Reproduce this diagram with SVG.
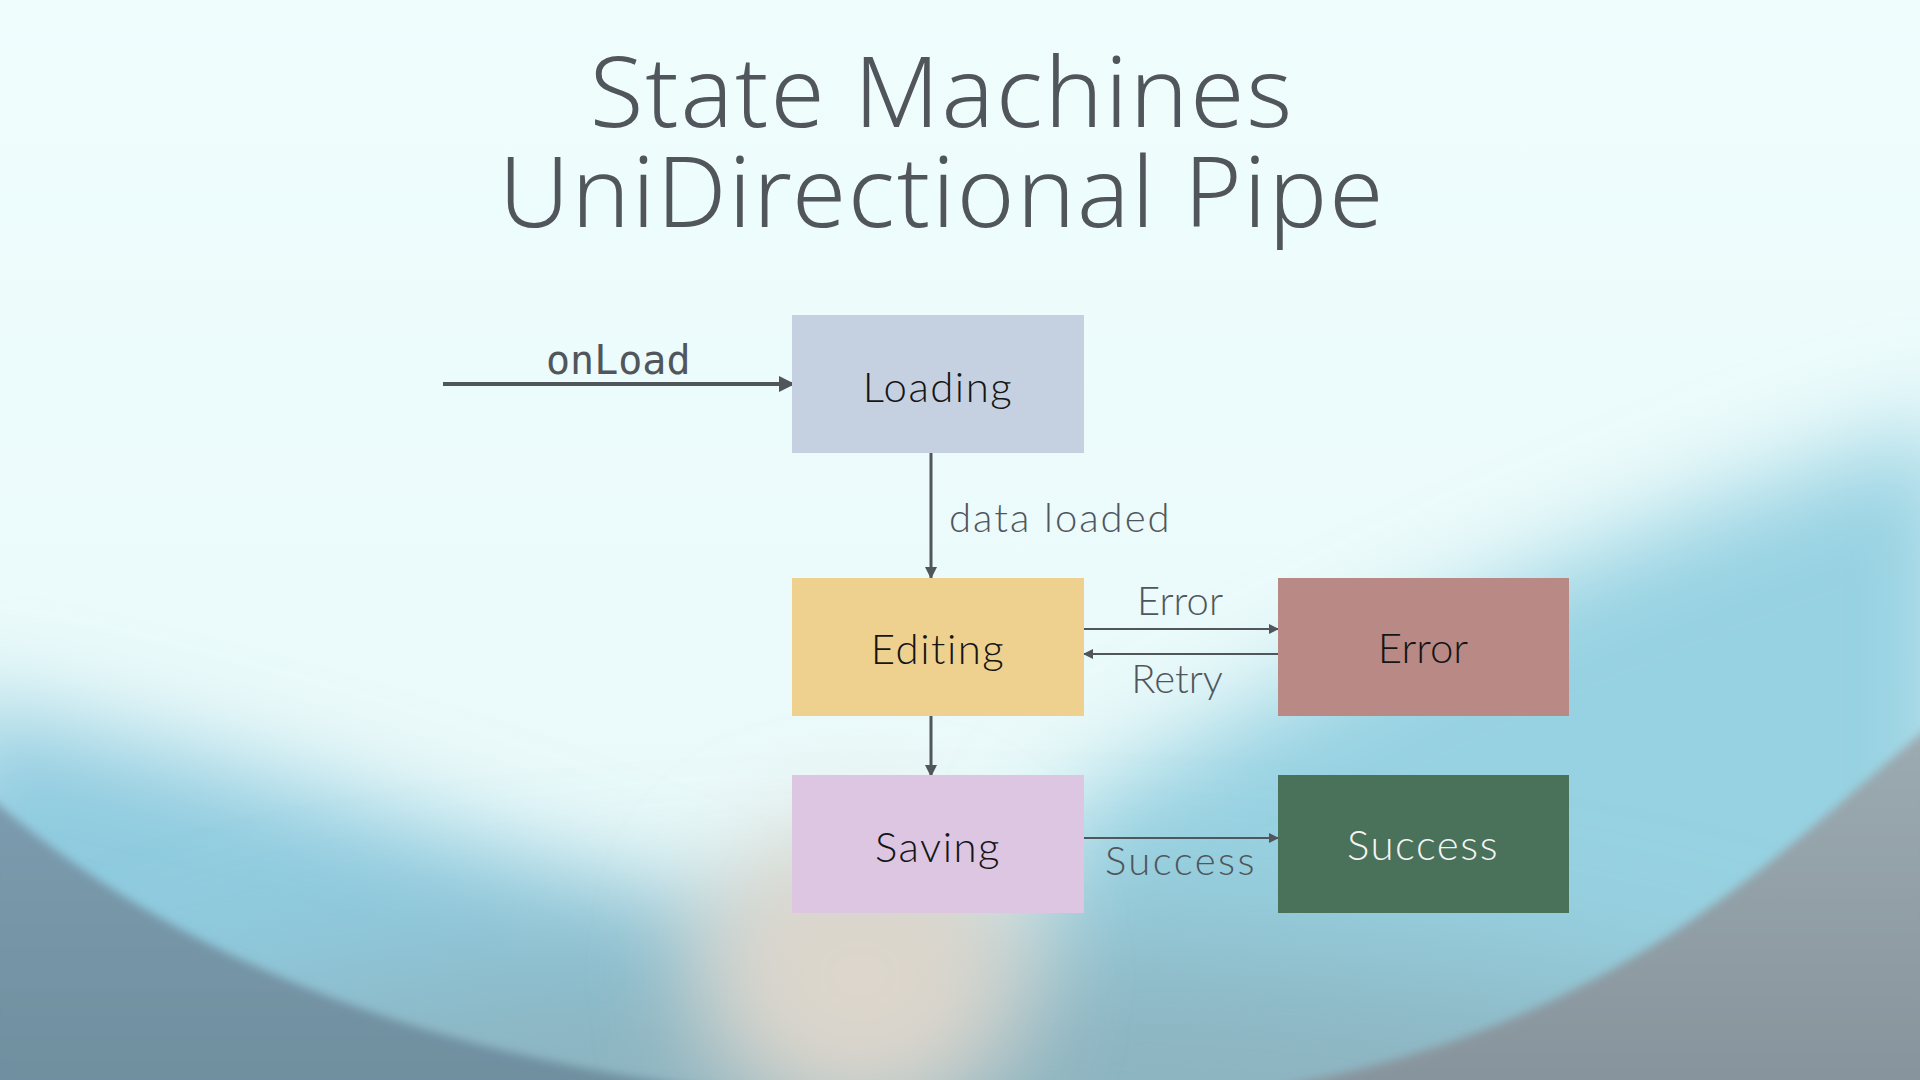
<svg xmlns="http://www.w3.org/2000/svg" width="1920" height="1080" viewBox="0 0 1920 1080">
<defs>
<style>
.title{font-family:"Noto Sans","Inter",sans-serif;font-weight:300;font-size:98px;letter-spacing:2px;fill:#50565c;text-anchor:middle}
.node text{font-family:"Lato","Open Sans",sans-serif;font-weight:300;font-size:42px;letter-spacing:1.5px;fill:#151515;text-anchor:middle}
.lbl{font-family:"Lato","Open Sans",sans-serif;font-weight:300;font-size:40px;fill:#50565c}
.mono{font-family:"DejaVu Sans Mono","Liberation Mono",monospace;font-size:40px;fill:#50565c}
.c{stroke:#50565c;fill:none}
</style>
<marker id="ahBig" markerUnits="userSpaceOnUse" markerWidth="18" markerHeight="18" refX="15" refY="8" orient="auto"><path d="M0,0 L16,8 L0,16 Z" fill="#50565c"/></marker>
<marker id="ahMid" markerUnits="userSpaceOnUse" markerWidth="14" markerHeight="14" refX="11" refY="6" orient="auto"><path d="M0,0 L12,6 L0,12 Z" fill="#50565c"/></marker>
<marker id="ahSm" markerUnits="userSpaceOnUse" markerWidth="12" markerHeight="12" refX="9" refY="5" orient="auto"><path d="M0,0 L10,5 L0,10 Z" fill="#50565c"/></marker>
<filter id="b80" x="-50%" y="-50%" width="200%" height="200%"><feGaussianBlur stdDeviation="80"/></filter>
<filter id="b50" x="-50%" y="-50%" width="200%" height="200%"><feGaussianBlur stdDeviation="50"/></filter>
<filter id="b5" x="-20%" y="-20%" width="140%" height="140%"><feGaussianBlur stdDeviation="5"/></filter>
<linearGradient id="bg" x1="0" y1="0" x2="0" y2="1"><stop offset="0" stop-color="#effdfd"/><stop offset="1" stop-color="#e8f8f8"/></linearGradient>
<linearGradient id="gl" x1="0" y1="0" x2="0" y2="1"><stop offset="0" stop-color="#7c9bae"/><stop offset="1" stop-color="#6f8f9f"/></linearGradient>
<linearGradient id="gr" x1="0" y1="0" x2="0" y2="1"><stop offset="0" stop-color="#9cabb1"/><stop offset="1" stop-color="#87939c"/></linearGradient>
</defs>
<g id="background">
<rect width="1920" height="1080" fill="url(#bg)"/>
<path d="M1050,820 Q1500,560 1960,420 L1960,1140 L1050,1140 Z" fill="#97d2e2" filter="url(#b50)"/>
<path d="M-60,700 Q300,770 720,930 L720,1140 L-60,1140 Z" fill="#8fcbdf" filter="url(#b50)"/>
<ellipse cx="960" cy="1160" rx="950" ry="220" fill="#8cb3bf" filter="url(#b80)"/>
<ellipse cx="860" cy="975" rx="160" ry="150" fill="#dcd6cc" filter="url(#b50)"/>
<path d="M-10,797 C120,910 330,1040 720,1090 L-10,1090 Z" fill="url(#gl)" filter="url(#b5)"/>
<path d="M1930,726 C1780,850 1620,1030 1260,1090 L1930,1090 Z" fill="url(#gr)" filter="url(#b5)"/>
</g>
<g id="title">
<text class="title" x="942" y="127">State Machines</text>
<text class="title" x="942" y="227">UniDirectional Pipe</text>
</g>
<g id="connectors">
<line class="c" x1="443" y1="384" x2="794" y2="384" stroke-width="4" marker-end="url(#ahBig)"/>
<text class="mono" x="546" y="374">onLoad</text>
<line class="c" x1="931" y1="453" x2="931" y2="578" stroke-width="3" marker-end="url(#ahMid)"/>
<text class="lbl" x="949" y="532" letter-spacing="2">data loaded</text>
<line class="c" x1="1084" y1="629" x2="1278" y2="629" stroke-width="2" marker-end="url(#ahSm)"/>
<text class="lbl" x="1180" y="615" text-anchor="middle">Error</text>
<line class="c" x1="1278" y1="654" x2="1084" y2="654" stroke-width="2" marker-end="url(#ahSm)"/>
<text class="lbl" x="1177" y="693" text-anchor="middle">Retry</text>
<line class="c" x1="931" y1="716" x2="931" y2="776" stroke-width="3" marker-end="url(#ahMid)"/>
<line class="c" x1="1084" y1="838" x2="1278" y2="838" stroke-width="2" marker-end="url(#ahSm)"/>
<text class="lbl" x="1181" y="875" text-anchor="middle" letter-spacing="2.5">Success</text>
</g>
<g id="node-loading" class="node"><rect x="792" y="315" width="292" height="138" fill="#c5d1e0"/><text x="938" y="402">Loading</text></g>
<g id="node-editing" class="node"><rect x="792" y="578" width="292" height="138" fill="#efd18f"/><text x="938" y="664">Editing</text></g>
<g id="node-error" class="node"><rect x="1278" y="578" width="291" height="138" fill="#b98986"/><text x="1423" y="663" style="letter-spacing:0">Error</text></g>
<g id="node-saving" class="node"><rect x="792" y="775" width="292" height="138" fill="#dcc6e2"/><text x="938" y="862">Saving</text></g>
<g id="node-success" class="node"><rect x="1278" y="775" width="291" height="138" fill="#4a7159"/><text x="1423" y="860" style="fill:#f4f4f4">Success</text></g>
</svg>
